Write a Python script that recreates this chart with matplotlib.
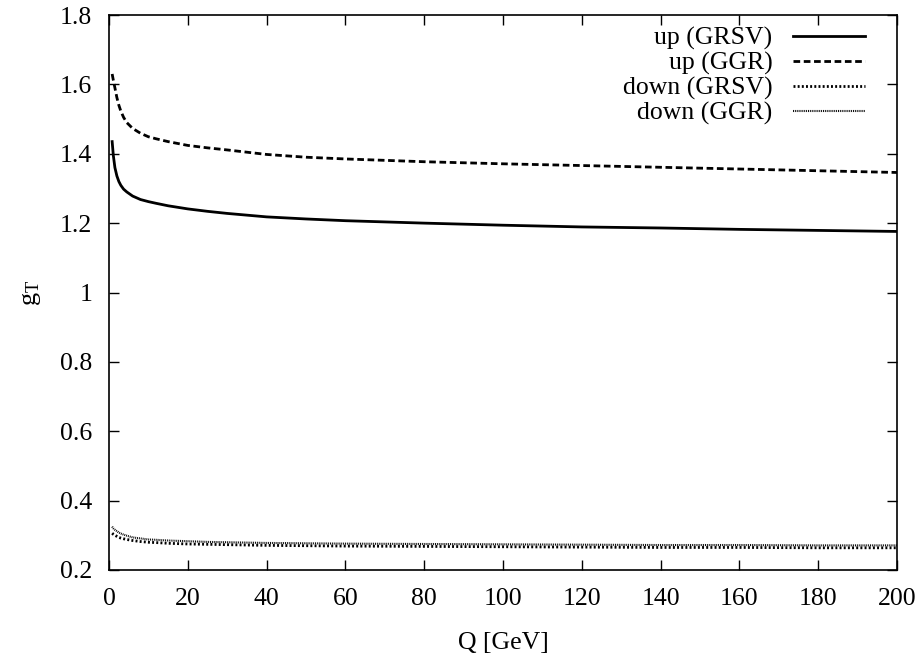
import numpy as np
import matplotlib
matplotlib.use("Agg")
import matplotlib.pyplot as plt

plt.rcParams["font.family"] = ["Liberation Serif", "DejaVu Serif"]
plt.rcParams["mathtext.fontset"] = "custom"
plt.rcParams["mathtext.rm"] = "Liberation Serif"
plt.rcParams["mathtext.it"] = "Liberation Serif"

# values
q_vals = [0.8, 1.1, 1.5, 2, 2.5, 3, 3.7, 4.5, 6, 8, 10, 12, 15, 20, 25, 30,
          40, 50, 60, 80, 100, 120, 140, 160, 180, 200]
up_grsv = [1.435, 1.395, 1.360, 1.336, 1.320, 1.309, 1.298, 1.290, 1.278,
           1.268, 1.262, 1.257, 1.250, 1.241, 1.234, 1.228, 1.218, 1.212,
           1.207, 1.200, 1.194, 1.189, 1.186, 1.182, 1.179, 1.176]
up_ggr = [1.630, 1.612, 1.590, 1.562, 1.540, 1.523, 1.505, 1.490, 1.473,
          1.459, 1.449, 1.443, 1.435, 1.424, 1.417, 1.411, 1.398, 1.390,
          1.385, 1.377, 1.371, 1.366, 1.361, 1.356, 1.351, 1.346]
down_grsv = [0.306, 0.303, 0.300, 0.297, 0.294, 0.292, 0.290, 0.288, 0.285,
             0.282, 0.280, 0.279, 0.277, 0.275, 0.274, 0.273, 0.271, 0.270,
             0.269, 0.268, 0.267, 0.266, 0.265, 0.265, 0.264, 0.264]
down_ggr = [0.325, 0.320, 0.316, 0.312, 0.308, 0.305, 0.302, 0.299, 0.294,
            0.291, 0.288, 0.287, 0.285, 0.283, 0.281, 0.280, 0.278, 0.277,
            0.276, 0.275, 0.274, 0.273, 0.272, 0.272, 0.271, 0.271]

x_ticks = np.arange(0, 201, 20)
y_ticks = [0.2, 0.4, 0.6, 0.8, 1, 1.2, 1.4, 1.6, 1.8]
y_labels = ["0.2", "0.4", "0.6", "0.8", "1", "1.2", "1.4", "1.6", "1.8"]

fig = plt.figure(figsize=(9.22, 6.57), dpi=100)
ax = fig.add_axes([109 / 922, 1 - 570 / 657, 788 / 922, 555 / 657])

ax.plot(q_vals, up_grsv, color="black", lw=2.0, label="up (GRSV)")
ax.plot(q_vals, up_ggr, color="black", lw=2.0,
        linestyle=(0, (2.4, 1.3)), label="up (GGR)")
ax.plot(q_vals, down_grsv, color="black", lw=2.0,
        linestyle=(0, (0.7, 0.8)), label="down (GRSV)")
ax.plot(q_vals, down_ggr, color="black", lw=1.5,
        linestyle=(0, (0.45, 0.45)), label="down (GGR)")

ax.set_xlim(0, 200)
ax.set_ylim(0.2, 1.8)
ax.set_xticks(x_ticks)
ax.set_yticks(y_ticks)
ax.set_yticklabels(y_labels)
ax.tick_params(direction="in", length=7, width=1.0, top=True, right=True,
               labelsize=18.5)
ax.tick_params(axis="y", pad=12)
ax.tick_params(axis="x", pad=13)
for sp in ax.spines.values():
    sp.set_linewidth(1.2)

ax.set_xlabel("Q [GeV]", fontsize=18.5, labelpad=16)
ax.set_ylabel(r"g$_{\mathrm{T}}$", fontsize=19, labelpad=12)

ax.legend(loc="upper right", frameon=False, markerfirst=False,
          fontsize=18.5, handlelength=2.8, handletextpad=0.8,
          labelspacing=0.06, borderaxespad=0.0, borderpad=0.0,
          bbox_to_anchor=((865 - 109) / 788, 1 - 12 / 555))

fig.savefig("out.png", dpi=100)
